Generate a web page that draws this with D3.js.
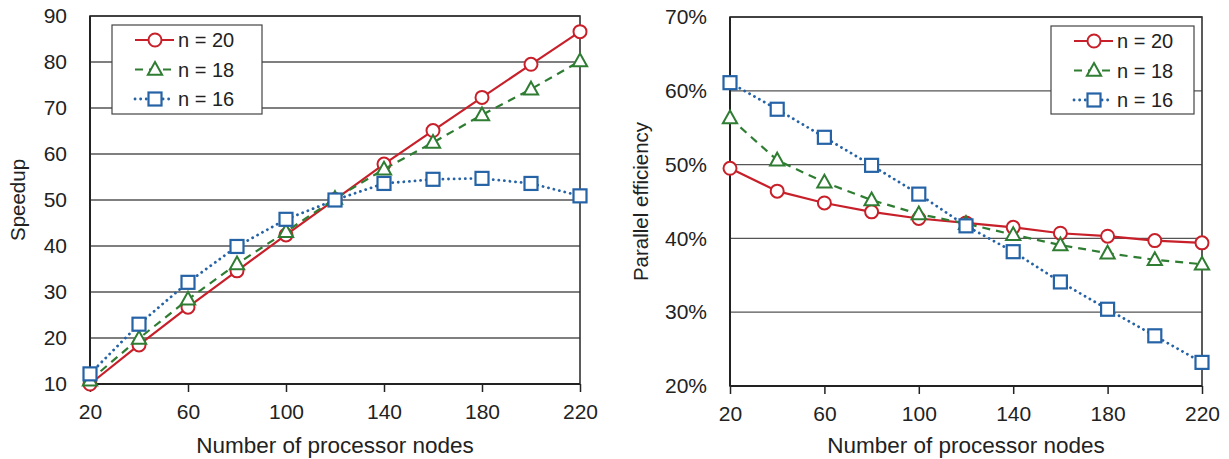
<!DOCTYPE html>
<html>
<head>
<meta charset="utf-8">
<style>
  body { margin: 0; background: #fff; }
  svg { display: block; font-family: "Liberation Sans", Arial, sans-serif; }
</style>
</head>
<body>
<svg id="chart" width="1229" height="459"></svg>

<script src="https://d3js.org/d3.v7.min.js"></script>
<script>
  // data
  const nodes = [20, 40, 60, 80, 100, 120, 140, 160, 180, 200, 220];
  const xTicks = [20, 60, 100, 140, 180, 220];

  const speedupN20 = [10.0, 18.5, 26.7, 34.6, 42.4, 50.1, 57.8, 65.1, 72.3, 79.5, 86.6];
  const speedupN18 = [10.8, 19.9, 28.4, 36.1, 43.1, 50.3, 56.7, 62.5, 68.5, 74.1, 80.2];
  const speedupN16 = [12.2, 23.0, 32.1, 39.9, 45.8, 50.0, 53.6, 54.5, 54.7, 53.6, 50.9];
  const speedupTicks = [10, 20, 30, 40, 50, 60, 70, 80, 90];

  const effN20 = [49.5, 46.4, 44.8, 43.6, 42.7, 42.1, 41.5, 40.7, 40.3, 39.7, 39.4];
  const effN18 = [56.3, 50.6, 47.6, 45.2, 43.3, 42.0, 40.5, 39.1, 38.0, 37.1, 36.5];
  const effN16 = [61.1, 57.5, 53.7, 49.9, 46.0, 41.7, 38.2, 34.1, 30.4, 26.8, 23.2];
  const effTicks = [20, 30, 40, 50, 60, 70];

  const seriesNames = ["n = 20", "n = 18", "n = 16"];

  const styles = [
    { color: "#c8202a", dash: null, cap: "butt", width: 2.2, marker: "circle" },
    { color: "#2e7d32", dash: "8,6", cap: "butt", width: 2.2, marker: "triangle" },
    { color: "#2563a6", dash: "0.1,5.5", cap: "round", width: 2.8, marker: "square" }
  ];

  const svg = d3.select("#chart");

  function drawMarker(g, type, x, y, color) {
    if (type === "circle") {
      g.append("circle").attr("cx", x).attr("cy", y).attr("r", 6.5)
        .attr("fill", "#fff").attr("stroke", color).attr("stroke-width", 2);
    } else if (type === "square") {
      g.append("rect").attr("x", x - 6.5).attr("y", y - 6.5)
        .attr("width", 13).attr("height", 13)
        .attr("fill", "#fff").attr("stroke", color).attr("stroke-width", 2.2);
    } else {
      const s = 7.5;
      g.append("path")
        .attr("d", `M${x},${y - s}L${x + s * 0.95},${y + s * 0.7}L${x - s * 0.95},${y + s * 0.7}Z`)
        .attr("fill", "#fff").attr("stroke", color).attr("stroke-width", 2);
    }
  }

  function drawPanel(opt) {
    const { left, right, top, bottom, yDomain, yTicks, yFormat, series, yTitle, yTitleX, legend } = opt;

    const x = d3.scaleLinear().domain([20, 220]).range([left, right]);
    const y = d3.scaleLinear().domain(yDomain).range([bottom, top]);

    const g = svg.append("g");

    // gridlines
    g.append("g")
      .selectAll("line")
      .data(yTicks)
      .join("line")
      .attr("x1", left).attr("x2", right)
      .attr("y1", d => y(d)).attr("y2", d => y(d))
      .attr("stroke", "#555").attr("stroke-width", 1.3);

    // frame
    g.append("rect")
      .attr("x", left).attr("y", top)
      .attr("width", right - left).attr("height", bottom - top)
      .attr("fill", "none").attr("stroke", "#333").attr("stroke-width", 1.6);
    g.append("line").attr("x1", left).attr("x2", left).attr("y1", top).attr("y2", bottom)
      .attr("stroke", "#222").attr("stroke-width", 2);
    g.append("line").attr("x1", left).attr("x2", right).attr("y1", bottom).attr("y2", bottom)
      .attr("stroke", "#222").attr("stroke-width", 2);

    // x axis
    const xAxis = g.append("g")
      .attr("transform", `translate(0,${bottom})`)
      .call(d3.axisBottom(x).tickValues(xTicks).tickSize(8).tickPadding(12));
    xAxis.select(".domain").remove();
    xAxis.selectAll("line").attr("stroke", "#222").attr("stroke-width", 1.5);
    xAxis.selectAll("text")
      .attr("font-size", 21).attr("fill", "#222")
      .attr("font-family", "Liberation Sans, Arial, sans-serif");

    // y axis
    const yAxis = g.append("g")
      .attr("transform", `translate(${left},0)`)
      .call(d3.axisLeft(y).tickValues(yTicks).tickFormat(yFormat).tickSize(0).tickPadding(23));
    yAxis.select(".domain").remove();
    yAxis.selectAll("text")
      .attr("font-size", 21).attr("fill", "#222")
      .attr("font-family", "Liberation Sans, Arial, sans-serif");

    // axis titles
    g.append("text")
      .attr("x", (left + right) / 2).attr("y", 453)
      .attr("text-anchor", "middle")
      .attr("font-size", 22.5).attr("fill", "#222")
      .text("Number of processor nodes");
    g.append("text")
      .attr("transform", `translate(${yTitleX},${(top + bottom) / 2}) rotate(-90)`)
      .attr("text-anchor", "middle")
      .attr("font-size", 20.5).attr("fill", "#222")
      .text(yTitle);

    // series
    const line = d3.line().x(d => x(d[0])).y(d => y(d[1]));
    series.forEach((vals, i) => {
      const st = styles[i];
      const pts = nodes.map((n, j) => [n, vals[j]]);
      const sg = g.append("g");
      sg.append("path")
        .datum(pts)
        .attr("d", line)
        .attr("fill", "none")
        .attr("stroke", st.color)
        .attr("stroke-width", st.width)
        .attr("stroke-dasharray", st.dash)
        .attr("stroke-linecap", st.cap);
      pts.forEach(p => drawMarker(sg, st.marker, x(p[0]), y(p[1]), st.color));
    });

    // legend
    const lg = g.append("g");
    lg.append("rect")
      .attr("x", legend.x).attr("y", legend.y)
      .attr("width", legend.w).attr("height", legend.h)
      .attr("fill", "#fff").attr("stroke", "#444").attr("stroke-width", 1.2);
    seriesNames.forEach((name, i) => {
      const st = styles[i];
      const cy = legend.y + 15 + i * 29.5;
      const x0 = legend.x + 23, x1 = legend.x + 62, xm = legend.x + 43;
      lg.append("line")
        .attr("x1", x0).attr("x2", x1).attr("y1", cy).attr("y2", cy)
        .attr("stroke", st.color).attr("stroke-width", st.width)
        .attr("stroke-dasharray", st.dash)
        .attr("stroke-linecap", st.cap);
      drawMarker(lg, st.marker, xm, cy, st.color);
      lg.append("text")
        .attr("x", legend.x + 66).attr("y", cy)
        .attr("dy", "0.35em")
        .attr("font-size", 20).attr("fill", "#222")
        .text(name);
    });
  }

  drawPanel({
    left: 90, right: 580, top: 16, bottom: 384,
    yDomain: [10, 90], yTicks: speedupTicks, yFormat: d => d,
    series: [speedupN20, speedupN18, speedupN16],
    yTitle: "Speedup", yTitleX: 25,
    legend: { x: 112, y: 25, w: 150, h: 89 }
  });

  drawPanel({
    left: 730, right: 1202, top: 17, bottom: 386,
    yDomain: [20, 70], yTicks: effTicks, yFormat: d => d + "%",
    series: [effN20, effN18, effN16],
    yTitle: "Parallel efficiency", yTitleX: 648,
    legend: { x: 1051, y: 26, w: 143, h: 88 }
  });
</script>
</body>
</html>
